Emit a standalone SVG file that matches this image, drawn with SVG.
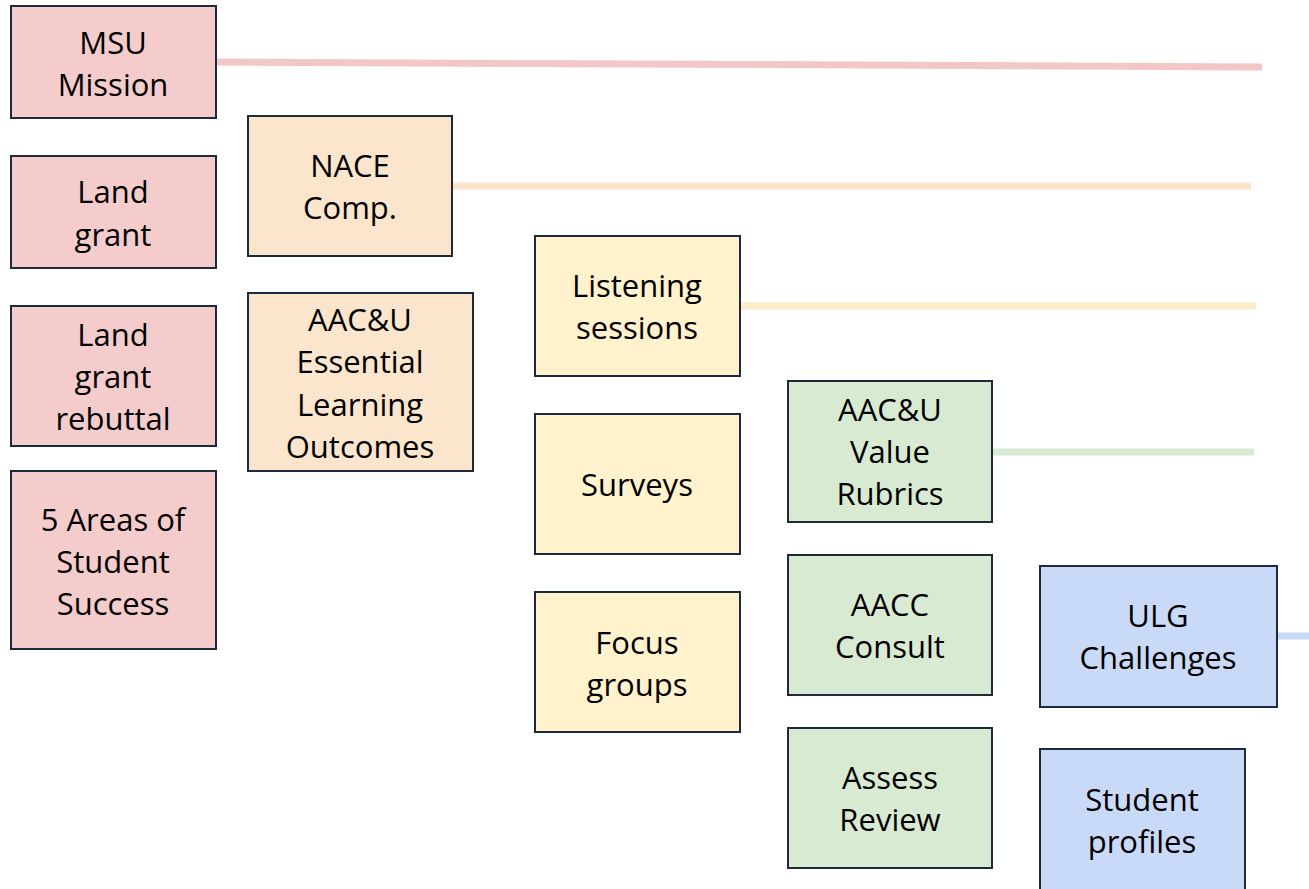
<svg xmlns="http://www.w3.org/2000/svg" width="1309" height="889" viewBox="0 0 1309 889">
<style>
.n{stroke:#1c2a3c;stroke-width:2}
.p{fill:#f4cccc}.o{fill:#fce5cd}.y{fill:#fff2cc}.g{fill:#d9ead3}.b{fill:#c9daf8}
text{font-family:"Open Sans","Liberation Sans",sans-serif;font-size:31px;fill:#000;text-anchor:middle}
.c{fill:none;stroke-width:7}
</style>
<rect width="1309" height="889" fill="#fff"/>
<g id="connectors">
<line class="c" x1="216" y1="62" x2="1262" y2="67" stroke="#f4c7c7"/>
<line class="c" x1="452" y1="186" x2="1251" y2="186" stroke="#fce3c9"/>
<line class="c" x1="740" y1="306" x2="1256" y2="306" stroke="#fdeec7"/>
<line class="c" x1="992" y1="452" x2="1254" y2="452" stroke="#d9ead3"/>
<line class="c" x1="1277" y1="636" x2="1309" y2="636" stroke="#c9daf8"/>
</g>
<g id="msu"><rect class="n p" x="11" y="6" width="205" height="112"/><text x="113" y="54">MSU</text><text x="113" y="96">Mission</text></g>
<g id="landgrant"><rect class="n p" x="11" y="156" width="205" height="112"/><text x="113" y="203">Land</text><text x="113" y="246">grant</text></g>
<g id="rebuttal"><rect class="n p" x="11" y="306" width="205" height="140"/><text x="113" y="346">Land</text><text x="113" y="388">grant</text><text x="113" y="430">rebuttal</text></g>
<g id="areas"><rect class="n p" x="11" y="471" width="205" height="178"/><text x="113" y="531">5 Areas of</text><text x="113" y="573">Student</text><text x="113" y="615">Success</text></g>
<g id="nace"><rect class="n o" x="248" y="116" width="204" height="140"/><text x="350" y="177">NACE</text><text x="350" y="219">Comp.</text></g>
<g id="elo"><rect class="n o" x="248" y="293" width="225" height="178"/><text x="360" y="331">AAC&amp;U</text><text x="360" y="373">Essential</text><text x="360" y="416">Learning</text><text x="360" y="458">Outcomes</text></g>
<g id="listening"><rect class="n y" x="535" y="236" width="205" height="140"/><text x="637" y="297">Listening</text><text x="637" y="339">sessions</text></g>
<g id="surveys"><rect class="n y" x="535" y="414" width="205" height="140"/><text x="637" y="496">Surveys</text></g>
<g id="focus"><rect class="n y" x="535" y="592" width="205" height="140"/><text x="637" y="654">Focus</text><text x="637" y="696">groups</text></g>
<g id="value"><rect class="n g" x="788" y="381" width="204" height="141"/><text x="890" y="421">AAC&amp;U</text><text x="890" y="463">Value</text><text x="890" y="505">Rubrics</text></g>
<g id="aacc"><rect class="n g" x="788" y="555" width="204" height="140"/><text x="890" y="616">AACC</text><text x="890" y="658">Consult</text></g>
<g id="assess"><rect class="n g" x="788" y="728" width="204" height="140"/><text x="890" y="789">Assess</text><text x="890" y="831">Review</text></g>
<g id="ulg"><rect class="n b" x="1040" y="566" width="237" height="141"/><text x="1158" y="627">ULG</text><text x="1158" y="669">Challenges</text></g>
<g id="profiles"><rect class="n b" x="1040" y="749" width="205" height="150"/><text x="1142" y="811">Student</text><text x="1142" y="853">profiles</text></g>
</svg>
